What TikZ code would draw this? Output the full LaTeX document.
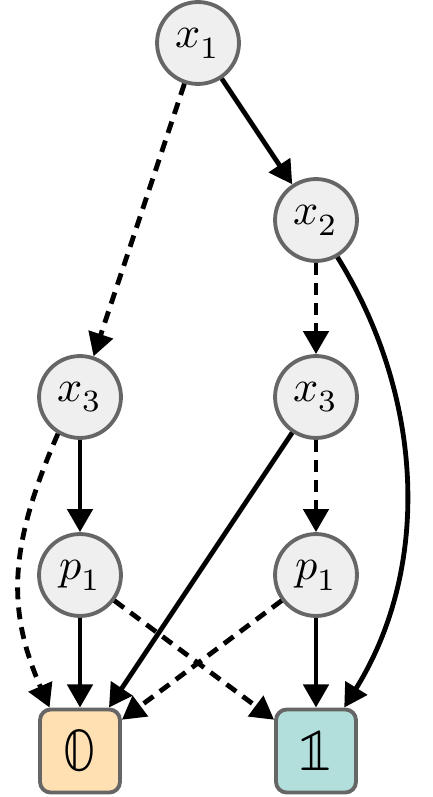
\documentclass[tikz,border=0pt]{standalone}
\usepackage{unicode-math}
\setmathfont{Latin Modern Math}
\usetikzlibrary{arrows.meta}
\definecolor{nodefill}{HTML}{EFEFEF}
\definecolor{nodeline}{HTML}{666666}
\definecolor{zerofill}{HTML}{FFE0B2}
\definecolor{onefill}{HTML}{B2DFDB}
\begin{document}
\begin{tikzpicture}[x=0.26pt,y=0.26pt,
  var/.style={circle, draw=nodeline, fill=nodefill, line width=1pt, minimum size=21.3pt, inner sep=0pt, font=\fontsize{11.5}{14}\selectfont},
  term/.style={rectangle, rounded corners=2.8pt, draw=nodeline, line width=1pt, minimum width=20.8pt, minimum height=21.6pt, inner sep=0pt, font=\fontsize{16}{19}\selectfont},
  hi/.style={line width=1.25pt, -{Triangle[length=6pt,width=6.5pt]}},
  lo/.style={hi, dash pattern=on 3.1pt off 2.1pt},
]
\useasboundingbox (0,0) rectangle (432,-797);
\node[var] (x1) at (198,-43) {$x_1$};
\node[var] (x2) at (316,-220) {$x_2$};
\node[var] (x3a) at (80,-397) {$x_3$};
\node[var] (x3b) at (316,-397) {$x_3$};
\node[var] (p1a) at (80,-575) {$p_1$};
\node[var] (p1b) at (316,-575) {$p_1$};
\node[term, fill=zerofill] (zero) at (80,-751) {$\mathbb{0}$};
\node[term, fill=onefill] (one) at (316,-751) {$\mathbb{1}$};

\draw[lo] (x1) -- (x3a);
\draw[hi] (x1) -- (x2);
\draw[lo] (x2) -- (x3b);
\draw[hi] (x2.-60) .. controls +(87,-140) and +(87,140) .. (one.57);
\draw[hi] (x3a) -- (p1a);
\draw[lo] (x3a.239) .. controls +(-48,-110) and +(-44,100) .. (zero.125);
\draw[hi] (x3b) -- (zero);
\draw[lo] (x3b) -- (p1b);
\draw[hi] (p1a) -- (zero);
\draw[lo] (p1a) -- (one);
\draw[lo] (p1b) -- (zero);
\draw[hi] (p1b) -- (one);
\end{tikzpicture}
\end{document}
